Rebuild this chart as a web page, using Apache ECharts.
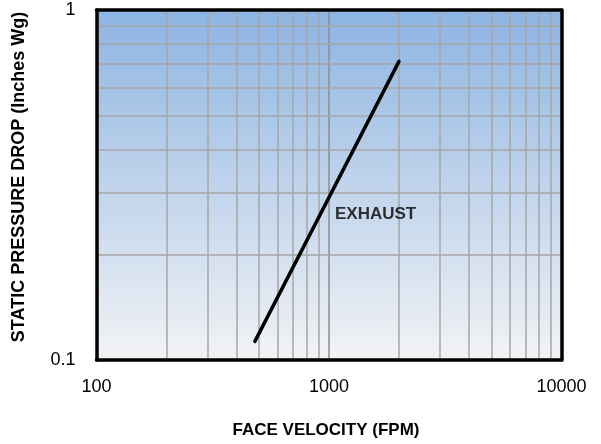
<!DOCTYPE html>
<html>
<head>
<meta charset="utf-8">
<script src="https://cdn.jsdelivr.net/npm/echarts@6/dist/echarts.min.js"></script>
<style>
html,body{margin:0;padding:0;background:#fff;}
#chart{width:601px;height:444px;}
</style>
</head>
<body>
<div id="chart"></div>
<script>
// ---- data ----
var exhaustVelocity = [480, 2000];
var exhaustPressure = [0.113, 0.713];
var xMinorGrid = [200, 300, 400, 500, 600, 700, 800, 900, 2000, 3000, 4000, 5000, 6000, 7000, 8000, 9000];
var xMajorGrid = [1000];
var yMinorGrid = [0.2, 0.3, 0.4, 0.5, 0.6, 0.7, 0.8, 0.9];
var xRange = [100, 10000];
var yRange = [0.1, 1];
var seriesLabel = 'EXHAUST';
var labelAnchor = [1061, 0.2616];
var xTitle = 'FACE VELOCITY (FPM)';
var yTitle = 'STATIC PRESSURE DROP (Inches Wg)';

var FONT = 'Liberation Sans, Arial, sans-serif';
var chart = echarts.init(document.getElementById('chart'), null, {renderer: 'canvas'});

var gridLines = [];
xMinorGrid.forEach(function (v) { gridLines.push({xAxis: v, lineStyle: {color: '#a6a6a6', width: 1.5, type: 'solid'}}); });
xMajorGrid.forEach(function (v) { gridLines.push({xAxis: v, lineStyle: {color: '#8c8c8c', width: 1.5, type: 'solid'}}); });
yMinorGrid.forEach(function (v) { gridLines.push({yAxis: v, lineStyle: {color: '#a6a6a6', width: 1.5, type: 'solid'}}); });

var borderLine = {show: true, lineStyle: {color: '#000', width: 3.5}};

chart.setOption({
  animation: false,
  grid: {
    left: 96.5, right: 39.5, top: 10, bottom: 82,
    show: true,
    borderWidth: 0,
    backgroundColor: {
      type: 'linear', x: 0, y: 0, x2: 0, y2: 1,
      colorStops: [{offset: 0, color: '#8db4e2'}, {offset: 1, color: '#f2f3f5'}]
    }
  },
  xAxis: [{
    type: 'log', logBase: 10, min: xRange[0], max: xRange[1],
    position: 'bottom', z: 10,
    axisLine: borderLine,
    axisTick: {show: false},
    splitLine: {show: false},
    axisLabel: {fontFamily: FONT, fontSize: 18, color: '#000', margin: 18,
      formatter: function (v) { return String(Math.round(v)); }},
    name: xTitle, nameLocation: 'middle', nameGap: 62,
    nameTextStyle: {fontFamily: FONT, fontSize: 17, fontWeight: 'bold', color: '#000', padding: [0, 6, 0, 0]}
  }, {
    type: 'log', logBase: 10, min: xRange[0], max: xRange[1],
    position: 'top', z: 10,
    axisLine: borderLine, axisTick: {show: false}, axisLabel: {show: false}, splitLine: {show: false}
  }],
  yAxis: [{
    type: 'log', logBase: 10, min: yRange[0], max: yRange[1],
    position: 'left', z: 10,
    axisLine: borderLine,
    axisTick: {show: false},
    splitLine: {show: false},
    axisLabel: {fontFamily: FONT, fontSize: 18, color: '#000', margin: 21},
    name: yTitle, nameLocation: 'middle', nameGap: 68, nameRotate: 90,
    nameTextStyle: {fontFamily: FONT, fontSize: 18, fontWeight: 'bold', color: '#000', padding: [0, 0, 0, 16]}
  }, {
    type: 'log', logBase: 10, min: yRange[0], max: yRange[1],
    position: 'right', z: 10,
    axisLine: borderLine, axisTick: {show: false}, axisLabel: {show: false}, splitLine: {show: false}
  }],
  series: [{
    type: 'line',
    data: [],
    silent: true,
    z: 1,
    markLine: {
      silent: true, symbol: 'none', animation: false,
      lineStyle: {type: 'solid'},
      label: {show: false},
      data: gridLines
    }
  }, {
    type: 'line',
    z: 5,
    data: exhaustVelocity.map(function (v, i) { return [v, exhaustPressure[i]]; }),
    showSymbol: false,
    lineStyle: {color: '#000', width: 3.5, cap: 'round'}
  }, {
    type: 'scatter',
    z: 6,
    symbolSize: 0,
    data: [labelAnchor],
    label: {
      show: true, position: 'right', distance: 0,
      formatter: seriesLabel,
      fontFamily: FONT, fontSize: 17, fontWeight: 'bold', color: '#000'
    }
  }]
});
</script>
</body>
</html>
